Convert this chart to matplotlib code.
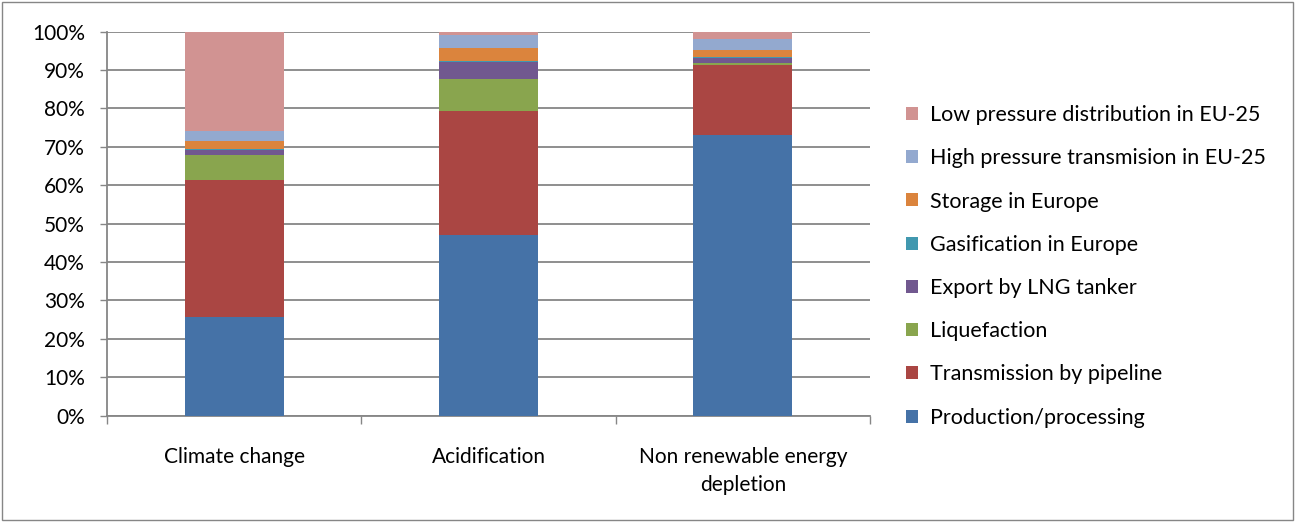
import matplotlib
matplotlib.use("Agg")
import matplotlib.pyplot as plt
from matplotlib.patches import Rectangle
import numpy as np

plt.rcParams['font.family'] = ['Lato', 'DejaVu Sans']

categories = ["Climate change", "Acidification", "Non renewable energy\ndepletion"]
series_names = ["Production/processing", "Transmission by pipeline", "Liquefaction",
                "Export by LNG tanker", "Gasification in Europe", "Storage in Europe",
                "High pressure transmision in EU-25", "Low pressure distribution in EU-25"]
production = [25.6, 47.0, 73.0]
transmission = [35.7, 32.3, 18.2]
liquefaction = [6.5, 8.3, 0.6]
export_lng = [1.3, 4.4, 1.4]
gasification = [0.2, 0.4, 0.2]
storage = [2.2, 3.3, 1.8]
high_pressure = [2.5, 3.4, 2.8]
low_pressure = [26.0, 0.9, 2.0]
colors = ["#4572A7", "#AA4643", "#89A54E", "#71588F", "#4198AF", "#DB843D", "#93A9CF", "#D19392"]
series = [production, transmission, liquefaction, export_lng, gasification, storage,
          high_pressure, low_pressure]

W, H = 1295, 522
fig = plt.figure(figsize=(W / 100, H / 100), dpi=100)
fig.patches.append(Rectangle((2 / W, 2 / H), 1 - 4 / W, 1 - 4 / H, transform=fig.transFigure,
                             fill=False, edgecolor="#868686", linewidth=1.0))

ax = fig.add_axes([107 / W, (522 - 415.5) / H, 763 / W, 384 / H])
x = np.arange(len(categories))
bottom = np.zeros(len(categories))
handles = []
for name, vals, c in zip(series_names, series, colors):
    b = ax.bar(x, vals, 0.39, bottom=bottom, color=c, label=name, zorder=3)
    handles.append(b)
    bottom += np.array(vals)

ax.set_xlim(-0.5, 2.5)
ax.set_ylim(0, 100)
ax.set_yticks(np.arange(0, 101, 10))
ax.set_yticklabels([f"{v}%" for v in range(0, 101, 10)], fontsize=15, color="#000000")
ax.yaxis.grid(True, color="#868686", linewidth=1.3, zorder=0)
ax.set_xticks(x)
ax.set_xticklabels(categories, fontsize=15, linespacing=1.45)
ax.set_xticks([-0.5, 0.5, 1.5, 2.5], minor=True)
ax.tick_params(axis="x", which="major", length=0, pad=23)
ax.tick_params(axis="x", which="minor", length=6, color="#868686", width=1)
ax.tick_params(axis="y", length=5, color="#868686", width=1, pad=11)
for s in ["top", "right"]:
    ax.spines[s].set_visible(False)
for s in ["left", "bottom"]:
    ax.spines[s].set_color("#868686")
    ax.spines[s].set_linewidth(1.3)

leg = ax.legend(handles[::-1], series_names[::-1], loc="upper left",
                bbox_to_anchor=(906 / W, (522 - 105) / H), bbox_transform=fig.transFigure,
                frameon=False, fontsize=15.5, handlelength=0.55, handleheight=0.55,
                handletextpad=0.55, labelspacing=1.08, borderaxespad=0, borderpad=0)

fig.savefig("out.png", dpi=100)
